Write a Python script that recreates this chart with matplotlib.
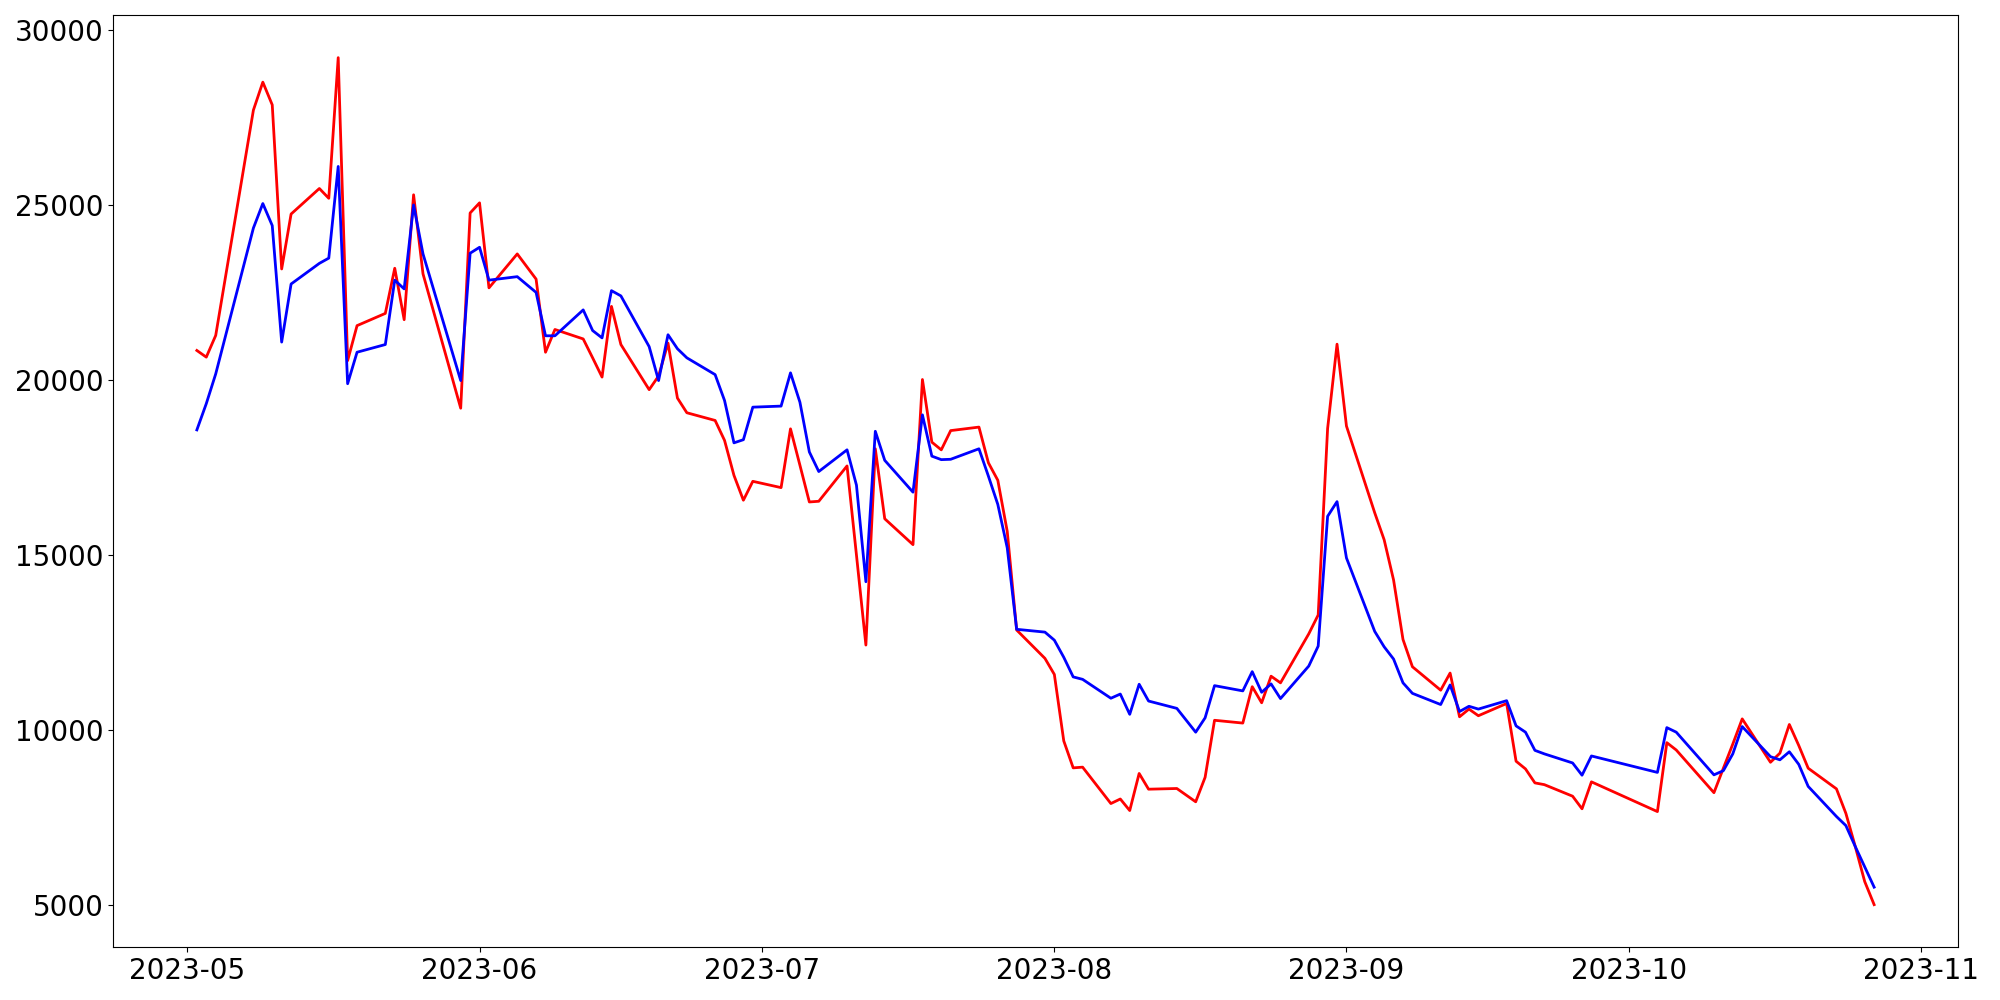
import pandas as pd
import matplotlib
matplotlib.use("Agg")
import matplotlib.pyplot as plt

# 取引日（2023年5月〜10月）
days_may = [2, 3, 4, 8, 9, 10, 11, 12, 15, 16, 17, 18, 19, 22, 23, 24, 25, 26, 30, 31]
days_jun = [1, 2, 5, 7, 8, 9, 12, 13, 14, 15, 16, 19, 20, 21, 22, 23, 26, 27, 28, 29, 30]
days_jul = [3, 4, 5, 6, 7, 10, 11, 12, 13, 14, 17, 18, 19, 20, 21, 24, 25, 26, 27, 28, 31]
days_aug = [1, 2, 3, 4, 7, 8, 9, 10, 11, 14, 16, 17, 18, 21, 22, 23, 24, 25, 28, 29, 30, 31]
days_sep = [1, 4, 5, 6, 7, 8, 11, 12, 13, 14, 15, 18, 19, 20, 21, 22, 25, 26, 27]
days_oct = [4, 5, 6, 10, 11, 12, 13, 16, 17, 18, 19, 20, 23, 24, 25, 26, 27]

red_values = [
    # May
    20850, 20660, 21280, 27720, 28520, 27870, 23180, 24750, 25480, 25200,
    29220, 20560, 21560, 21910, 23200, 21730, 25300, 23040, 19200, 24780,
    # Jun
    25070, 22640, 23610, 22890, 20800, 21450, 21180, 20640, 20090, 22110,
    21020, 19730, 20120, 21060, 19490, 19070, 18850, 18280, 17280, 16570, 17110,
    # Jul
    16930, 18610, 17570, 16520, 16540, 17550, 15000, 12430, 18040, 16040,
    15300, 20020, 18230, 18010, 18560, 18660, 17640, 17140, 15680, 12860, 12050,
    # Aug
    11590, 9690, 8920, 8940, 7900, 8030, 7700, 8760, 8310, 8330,
    7950, 8650, 10280, 10200, 11240, 10780, 11540, 11350, 12750, 13290, 18620, 21030,
    # Sep
    18690, 16210, 15440, 14290, 12590, 11810, 11140, 11630, 10380, 10600,
    10410, 10760, 9110, 8890, 8490, 8440, 8110, 7750, 8520,
    # Oct
    7670, 9640, 9430, 8210, 8910, 9600, 10320, 9080, 9340, 10160,
    9560, 8910, 8320, 7620, 6670, 5670, 5010,
]

blue_values = [
    # May
    18580, 19330, 20180, 24350, 25050, 24420, 21090, 22750, 23340, 23490,
    26110, 19900, 20800, 21020, 22860, 22610, 25010, 23610, 19990, 23630,
    # Jun
    23800, 22860, 22960, 22510, 21270, 21270, 22010, 21420, 21210, 22560,
    22410, 20960, 19990, 21300, 20900, 20640, 20160, 19420, 18210, 18300, 19230,
    # Jul
    19260, 20210, 19370, 17950, 17390, 18010, 17000, 14240, 18540, 17710,
    16800, 19010, 17830, 17730, 17740, 18040, 17260, 16450, 15210, 12880, 12800,
    # Aug
    12570, 12080, 11520, 11450, 10910, 11030, 10450, 11310, 10830, 10620,
    9940, 10350, 11270, 11120, 11670, 11080, 11320, 10900, 11830, 12400, 16110, 16530,
    # Sep
    14920, 12820, 12380, 12030, 11350, 11050, 10730, 11290, 10530, 10680,
    10600, 10840, 10120, 9940, 9420, 9320, 9060, 8710, 9260,
    # Oct
    8790, 10070, 9940, 8720, 8840, 9320, 10100, 9240, 9150, 9380,
    9020, 8390, 7530, 7270, 6670, 6090, 5510,
]

# 日付リストを作成
date_strs = []
for month, days in [(5, days_may), (6, days_jun), (7, days_jul),
                    (8, days_aug), (9, days_sep), (10, days_oct)]:
    for d in days:
        date_strs.append(f"2023-{month:02d}-{d:02d}")
dates = pd.to_datetime(date_strs)

# --- グラフ描画 ---
fig, ax = plt.subplots(figsize=(20, 10), dpi=100)
ax.plot(dates, red_values, color="red", linewidth=2)
ax.plot(dates, blue_values, color="blue", linewidth=2)

ax.tick_params(axis="both", labelsize=20)
plt.subplots_adjust(left=0.0565, right=0.979, top=0.9847, bottom=0.053)
plt.savefig("out.png")
